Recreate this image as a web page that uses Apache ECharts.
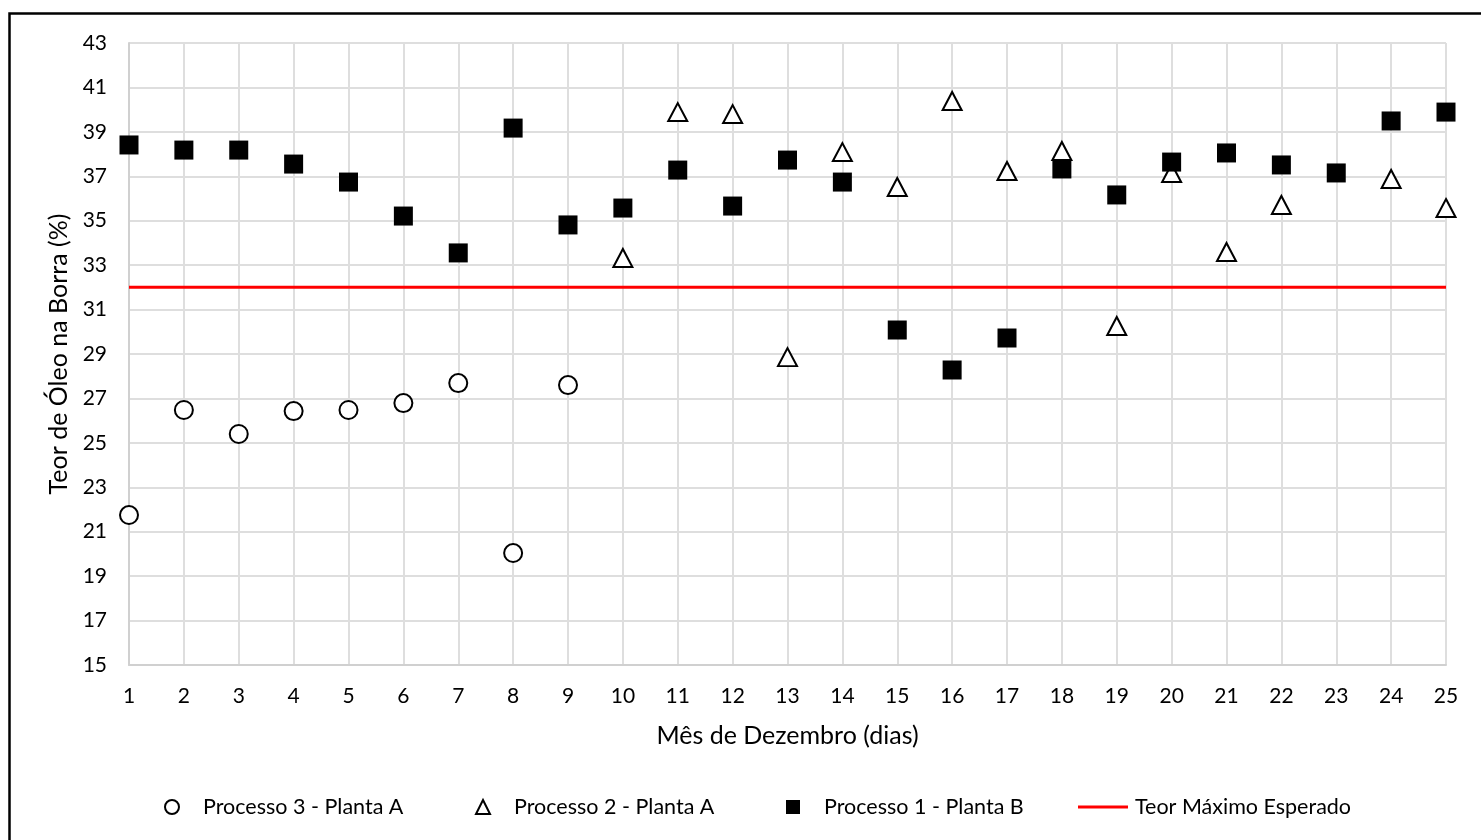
<!DOCTYPE html>
<html>
<head>
<meta charset="utf-8">
<script src="https://cdn.jsdelivr.net/npm/echarts@6/dist/echarts.min.js"></script>
<style>
  html, body { margin: 0; padding: 0; background: #fff; }
  #chart { width: 1481px; height: 840px; }
</style>
</head>
<body>
<div id="chart"></div>
<script>
// Days of December (x axis)
const days = [1,2,3,4,5,6,7,8,9,10,11,12,13,14,15,16,17,18,19,20,21,22,23,24,25];

// Oil content in the sludge (%) per process; null = no measurement that day
const processo3A = [21.75, 26.48, 25.40, 26.43, 26.48, 26.79, 27.69, 20.04, 27.60,
  null, null, null, null, null, null, null, null, null, null, null, null, null, null, null, null];
const processo2A = [null, null, null, null, null, null, null, null, null,
  33.32, 39.89, 39.80, 28.86, 38.09, 36.52, 40.39, 37.24, 38.14, 30.26, 37.15, 33.59, 35.71, null, 36.88, 35.57];
const processo1B = [38.41, 38.18, 38.18, 37.55, 36.74, 35.21, 33.55, 39.17, 34.81,
  35.57, 37.28, 35.66, 37.73, 36.74, 30.08, 28.28, 29.72, 37.33, 36.16, 37.64, 38.05, 37.51, 37.15, 39.49, 39.89];

// Maximum expected oil content
const teorMaximo = 32;

// Axis ranges / ticks
const yMin = 15, yMax = 43, yStep = 2;
const xMin = 1, xMax = 25, xStep = 1;

const seriesNames = ['Processo 3 - Planta A', 'Processo 2 - Planta A', 'Processo 1 - Planta B', 'Teor Máximo Esperado'];

const FONT = 'Lato';
const TICK_SIZE = 21;
const TITLE_SIZE = 25;
const LEGEND_SIZE = 21.5;

function pairs(values) {
  const out = [];
  values.forEach((v, i) => { if (v !== null) out.push([days[i], v]); });
  return out;
}

const chart = echarts.init(document.getElementById('chart'));

const legendBase = {
  orient: 'horizontal',
  top: 796,
  padding: 0,
  itemWidth: 14,
  itemHeight: 14,
  selectedMode: false,
  textStyle: { fontFamily: FONT, fontSize: LEGEND_SIZE, color: '#000', padding: [0, 0, 0, 19] }
};

chart.setOption({
  animation: false,
  backgroundColor: '#fff',
  graphic: [{
    type: 'rect',
    shape: { x: 9.5, y: 13.5, width: 1600, height: 900 },
    style: { fill: 'none', stroke: '#000', lineWidth: 2.5 },
    silent: true
  }],
  grid: { left: 129, right: 35, top: 43, bottom: 175 },
  xAxis: {
    type: 'value',
    min: xMin, max: xMax, interval: xStep,
    name: 'Mês de Dezembro (dias)',
    nameLocation: 'middle',
    nameGap: 58,
    nameTextStyle: { fontFamily: FONT, fontSize: TITLE_SIZE, color: '#000' },
    axisLine: { show: true, lineStyle: { color: '#d0d0d0', width: 2 } },
    axisTick: { show: false },
    axisLabel: { fontFamily: FONT, fontSize: TICK_SIZE, color: '#000', margin: 21 },
    splitLine: { show: true, lineStyle: { color: '#dedede', width: 2 } }
  },
  yAxis: {
    type: 'value',
    min: yMin, max: yMax, interval: yStep,
    name: 'Teor de Óleo na Borra (%)',
    nameLocation: 'middle',
    nameGap: 55,
    nameTextStyle: { fontFamily: FONT, fontSize: TITLE_SIZE, color: '#000' },
    axisLine: { show: true, lineStyle: { color: '#d0d0d0', width: 2 } },
    axisTick: { show: false },
    axisLabel: { fontFamily: FONT, fontSize: TICK_SIZE, color: '#000', margin: 22 },
    splitLine: { show: true, lineStyle: { color: '#dedede', width: 2 } }
  },
  legend: [
    Object.assign({}, legendBase, { left: 164, data: [seriesNames[0]] }),
    Object.assign({}, legendBase, { left: 475, data: [seriesNames[1]] }),
    Object.assign({}, legendBase, { left: 786, data: [seriesNames[2]] }),
    Object.assign({}, legendBase, {
      left: 1078, itemWidth: 50, itemHeight: 3,
      data: [{ name: seriesNames[3], icon: 'rect' }],
      textStyle: { fontFamily: FONT, fontSize: LEGEND_SIZE, color: '#000', padding: [0, 0, 0, 2] }
    })
  ],
  series: [
    {
      name: seriesNames[3],
      type: 'line',
      data: [[xMin, teorMaximo], [xMax, teorMaximo]],
      symbol: 'none',
      lineStyle: { color: '#ff0000', width: 3 },
      itemStyle: { color: '#ff0000' },
      z: 1
    },
    {
      name: seriesNames[0],
      type: 'scatter',
      data: pairs(processo3A),
      symbol: 'circle',
      symbolSize: 18,
      itemStyle: { color: '#fff', borderColor: '#000', borderWidth: 2, opacity: 1 },
      z: 3
    },
    {
      name: seriesNames[1],
      type: 'scatter',
      data: pairs(processo2A),
      symbol: 'triangle',
      symbolSize: [19, 18],
      itemStyle: { color: '#fff', borderColor: '#000', borderWidth: 2, opacity: 1 },
      z: 3
    },
    {
      name: seriesNames[2],
      type: 'scatter',
      data: pairs(processo1B),
      symbol: 'rect',
      symbolSize: 19,
      itemStyle: { color: '#000', opacity: 1 },
      z: 4
    }
  ]
});
</script>
</body>
</html>
